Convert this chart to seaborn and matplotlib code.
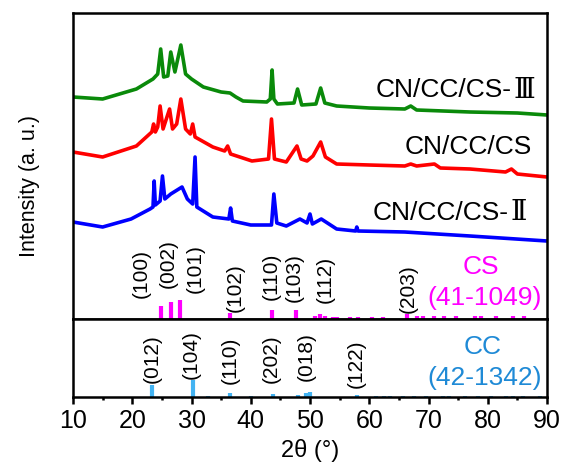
import matplotlib
matplotlib.use("Agg")
import matplotlib.pyplot as plt
import seaborn as sns
import pandas as pd

sns.set_theme(style="white")
plt.rcParams['font.family'] = ['Liberation Sans', 'Noto Sans CJK SC', 'DejaVu Sans']
plt.rcParams['text.color'] = 'black'
plt.rcParams['axes.labelcolor'] = 'black'
plt.rcParams['xtick.color'] = 'black'

# ---- XRD curves (2theta, intensity a.u., already offset) ----
tt_III = [10, 15, 20.7, 23.5, 24.3, 24.8, 25.3, 26.0, 26.5, 27.2, 28.2, 29.0, 30, 32, 35, 36.5, 37.5,
          38.7, 42.7, 43.3, 43.6, 43.9, 44.5, 47.3, 47.9, 48.6, 51.0, 51.8, 52.5, 54.5, 60, 66, 67, 68,
          77, 85, 90]
I_III = [222, 220, 230, 240, 245, 270, 242, 243, 267, 247, 274, 245, 240, 232, 227, 226, 222,
         218, 217, 220, 249, 220, 215, 216, 230, 214, 215, 231, 216, 213, 211, 210, 213, 209,
         207, 206, 204]

tt_CS = [10, 15, 20.7, 23.3, 23.6, 23.9, 24.3, 24.7, 25.2, 26.3, 26.8, 27.5, 28.2, 29.0, 29.8, 30.2,
         30.6, 33.6, 35.6, 36.1, 36.6, 40.2, 43.0, 43.5, 44.0, 46.0, 47.8, 48.5, 49.5, 50.5, 51.8,
         52.6, 54.5, 60, 66, 67, 68, 71, 72, 77, 83, 84, 85, 90]
I_CS = [167, 162, 173, 187, 195, 187, 192, 213, 190, 210, 190, 195, 220, 190, 185, 195,
        182, 172, 168, 173, 165, 158, 160, 200, 160, 157, 173, 160, 158, 163, 177,
        162, 155, 154, 153, 155, 153, 155, 151, 150, 147, 150, 145, 142]

tt_II = [10, 15, 19.8, 23.0, 23.5, 23.7, 23.9, 24.7, 25.1, 25.5, 26.5, 28.4, 29.3, 30.2, 30.6, 30.9,
         33.6, 36.3, 36.6, 36.9, 40, 43.5, 43.9, 44.4, 46, 48.3, 49.5, 50.0, 50.4, 51.9, 54.5, 57.7,
         57.9, 58.1, 66, 77, 90]
I_II = [97, 92, 100, 110, 112, 138, 114, 118, 143, 120, 125, 132, 120, 115, 162, 112,
        102, 100, 111, 98, 94, 94, 125, 96, 93, 100, 96, 105, 95, 100, 90, 88,
        92, 88, 87, 83, 78]

# ---- Reference stick patterns ----
cs_pos = [24.8, 26.5, 28.1, 36.5, 43.6, 47.7, 50.8, 51.7, 52.5, 53.9, 54.5, 56.7, 58.1, 60.4,
          62.3, 66.4, 68.0, 69.0, 71.0, 72.7, 74.7, 77.8, 78.9, 81.4, 84.2, 86.2]
cs_int = [13, 17, 19, 6, 9, 9, 3, 5, 3, 2, 2, 2, 2, 2,
          2, 5, 3, 3, 3, 3, 3, 3, 3, 3, 3, 3]
cs_hkl = ["(100)", "(002)", "(101)", "(102)", "(110)", "(103)", "(112)", "(203)"]
cs_hkl_x = [21.6, 26.1, 30.6, 37.3, 43.5, 47.3, 52.5, 66.5]
cs_hkl_y = [22, 32, 27, 8, 20, 18, 17, 7]

cc_pos = [23.4, 30.2, 32.8, 36.5, 40.1, 43.8, 48.0, 49.3, 50.0, 57.9, 61.2, 62.5, 63.5, 65.7,
          67.5, 69.5, 72.4, 73.5, 76.2, 78.4, 80.6, 83.0, 84.3, 86.0, 88.8]
cc_int = [12, 17, 1.5, 4, 1.5, 3, 2.5, 4, 5, 2, 1.5, 1.5, 1.5, 1.5,
          1.5, 1.5, 1.5, 1.5, 1.5, 1.5, 1.5, 1.5, 1.5, 1.5, 1.5]
cc_hkl = ["(012)", "(104)", "(110)", "(202)", "(018)", "(122)"]
cc_hkl_x = [23.4, 30.0, 36.5, 43.5, 49.3, 57.8]
cc_hkl_y = [15, 19, 14, 15, 17, 10]

sample_names = ["CN/CC/CS-", "CN/CC/CS", "CN/CC/CS-"]
sample_suffix = ["Ⅲ", "", "Ⅱ"]
sample_label_x = [84.1, 87.5, 83.6]
sample_label_y = [230, 173, 107]

W, H = 565, 477
fig = plt.figure(figsize=(W / 100, H / 100), dpi=100)
L, R = 73 / W, 547 / W
ax = fig.add_axes([L, 1 - 320 / H, R - L, (320 - 14) / H])
ax2 = fig.add_axes([L, 1 - 398 / H, R - L, (398 - 320) / H], sharex=ax)

curves = [(tt_III, I_III, "#0a8a0a"), (tt_CS, I_CS, "#ff0000"), (tt_II, I_II, "#0000ff")]
for x, y, c in curves:
    df = pd.DataFrame({"2theta": x, "I": y})
    sns.lineplot(data=df, x="2theta", y="I", color=c, lw=2.6, ax=ax)

mag = "#ff00ff"
ax.vlines(cs_pos, 0, cs_int, color=mag, lw=3)
for t, xx, yy in zip(cs_hkl, cs_hkl_x, cs_hkl_y):
    ax.text(xx, yy, t, rotation=90, ha="center", va="bottom", fontsize=15)

lb = "#43b3f2"
ax2.vlines(cc_pos, 0, cc_int, color=lb, lw=3)
for t, xx, yy in zip(cc_hkl, cc_hkl_x, cc_hkl_y):
    ax2.text(xx, yy, t, rotation=90, ha="center", va="bottom", fontsize=15)

for name, suf, xx, yy in zip(sample_names, sample_suffix, sample_label_x, sample_label_y):
    t = ax.text(xx, yy, name, ha="right", va="center", fontsize=19)
    if suf:
        ax.annotate(suf, xy=(1, 0.5), xycoords=t, xytext=(1, 0), textcoords="offset points",
                    ha="left", va="center", fontsize=20, family=["DejaVu Serif"])

ax.text(78.9, 53, "CS", ha="center", va="center", fontsize=19, color=mag)
ax.text(79.5, 22, "(41-1049)", ha="center", va="center", fontsize=19, color=mag)
ax2.text(79.2, 51, "CC", ha="center", va="center", fontsize=19, color="#1f8ad6")
ax2.text(79.5, 20, "(42-1342)", ha="center", va="center", fontsize=19, color="#1f8ad6")

ax.set_xlim(10, 90)
ax.set_ylim(0, 306)
ax2.set_ylim(0, 78)
for a in (ax, ax2):
    a.set_yticks([])
    a.set_ylabel("")
    a.set_xlabel("")
    for s in a.spines.values():
        s.set_linewidth(1.8)
        s.set_color("black")
ax.tick_params(axis="x", which="both", bottom=False, labelbottom=False)
ax2.set_xticks([10, 20, 30, 40, 50, 60, 70, 80, 90])
ax2.set_xticks([15, 25, 35, 45, 55, 65, 75, 85], minor=True)
ax2.tick_params(axis="x", which="major", bottom=True, direction="out", length=5, width=1.8,
                labelsize=18, pad=3, colors="black")
ax2.tick_params(axis="x", which="minor", bottom=True, direction="out", length=2.5, width=1.8)
ax2.set_xlabel("2θ (°)", fontsize=17, labelpad=4)
fig.text(29 / W, 1 - 186 / H, "Intensity (a. u.)", rotation=90, ha="center", va="center", fontsize=15.5)

fig.savefig("out.png", dpi=100)
